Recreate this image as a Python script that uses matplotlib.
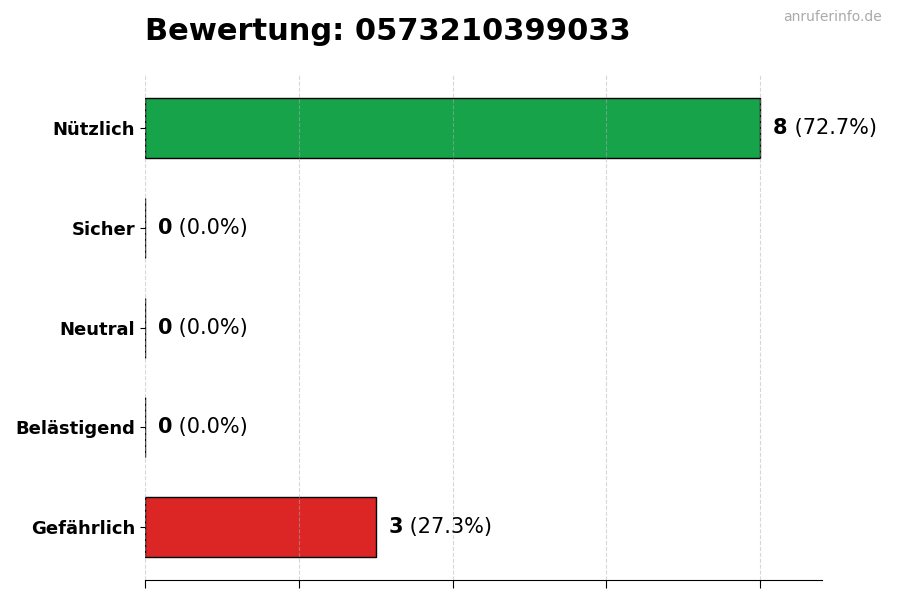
import matplotlib
matplotlib.use("Agg")
import matplotlib.pyplot as plt

categories = ["Nützlich", "Sicher", "Neutral", "Belästigend", "Gefährlich"]
counts = [8, 0, 0, 0, 3]
colors = ["#16a34a", "#16a34a", "#9ca3af", "#dc2626", "#dc2626"]
title = "Bewertung: 0573210399033"
watermark = "anruferinfo.de"

total = sum(counts)
fig = plt.figure(figsize=(9, 6), dpi=100)
ax = fig.add_axes([0.161, 0.033, 0.752, 0.842])
y = list(range(len(categories)))
ax.barh(y, counts, height=0.6, color=colors, edgecolor="black", linewidth=1, zorder=1)
ax.set_yticks(y)
ax.set_yticklabels(categories, fontsize=13, fontweight="bold")
ax.invert_yaxis()
ax.set_xlim(0, 8.8)
ax.set_xticks([0, 2, 4, 6, 8])
ax.set_xticklabels([])
ax.tick_params(axis="x", length=6)
ax.grid(axis="x", linestyle="--", color="#b0b0b0", alpha=0.5, linewidth=0.8, zorder=2)
ax.set_axisbelow(False)
for s in ["top", "right", "left"]:
    ax.spines[s].set_visible(False)

off = 0.17
for yi, c in zip(y, counts):
    pct = 100 * c / total
    t = ax.text(c + off, yi, f"{c}", fontsize=15, fontweight="bold", va="center", ha="left")
    ax.annotate(f" ({pct:.1f}%)", xycoords=t, xy=(1, 0.5), va="center", ha="left", fontsize=15)

fig.text(0.161, 0.948, title, fontsize=22, fontweight="bold", ha="left", va="center")
fig.text(0.98, 0.971, watermark, fontsize=10, color="#aaaaaa", ha="right", va="center")
fig.savefig("out.png", dpi=100)
